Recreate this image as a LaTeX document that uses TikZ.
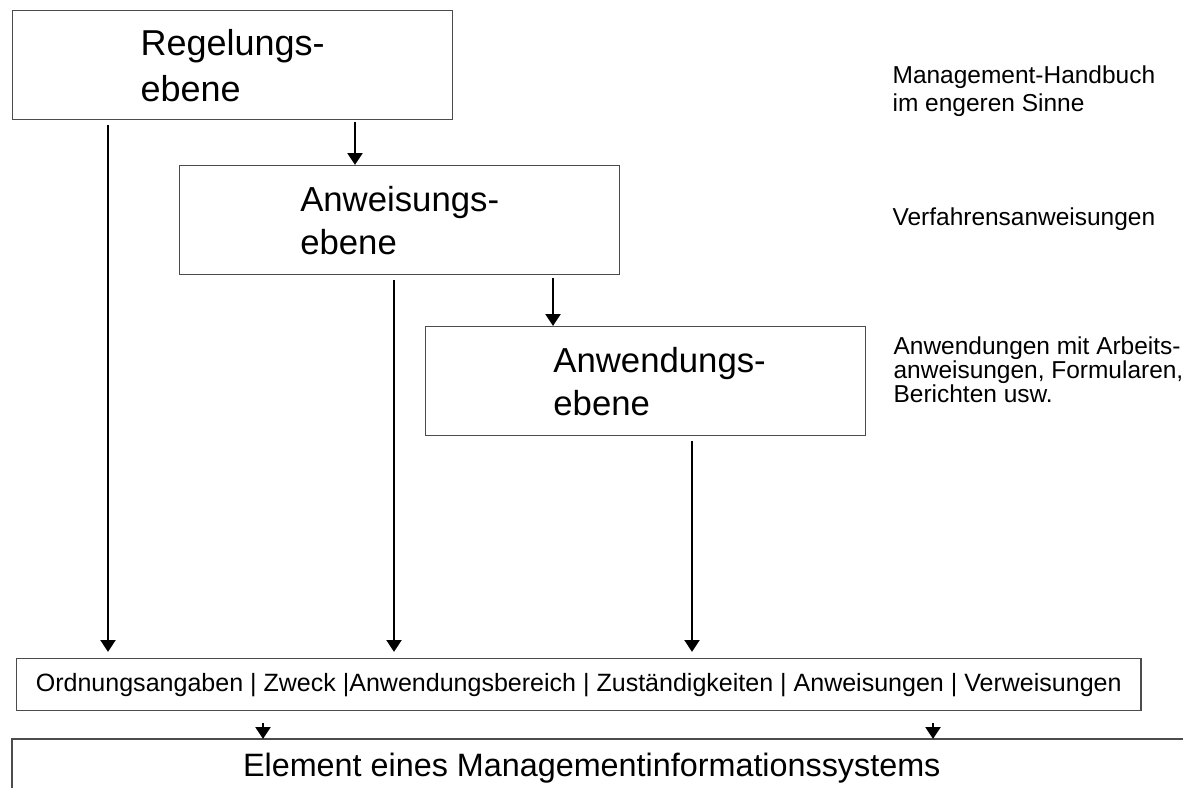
\documentclass[tikz,border=0pt]{standalone}
\usepackage{fontspec}
\setmainfont{Liberation Sans}
\usetikzlibrary{arrows.meta}

\begin{document}
\begin{tikzpicture}[%
        x = 0.025cm,
        y = -0.025cm,
        line width = 0.9pt,
        > = {Triangle[length = 8.5pt, width = 10.5pt]},
        ebene/.style = {
            draw = black!70,
            rectangle,
            anchor = north west,
            minimum width = 11cm,
            minimum height = 2.725cm,
            inner sep = 0pt,
            align = left,
            font = \fontsize{24.7}{30.6}\selectfont,
        },
        notiz/.style = {
            anchor = base west,
            inner sep = 0pt,
            align = left,
            font = \fontsize{17.4}{20}\selectfont,
        },
    ]

        % Size of the picture.
        \useasboundingbox (0, 0) rectangle (1183, 788);
        \clip (0, 0) rectangle (1183, 788);

        % The three levels.
        \node[ebene, font = \fontsize{25.6}{32.7}\selectfont] (regelung) at (12, 10) {Regelungs-\\ebene};
        \node[ebene] (anweisung) at (179, 165) {Anweisungs-\\ebene};
        \node[ebene] (anwendung) at (425, 326) {\hspace*{22\pgflinewidth}Anwendungs-\\\hspace*{22\pgflinewidth}ebene};

        % Notes to the right of the levels (base is the last line).
        \node[notiz] (handbuch) at (892, 112) {Management-Handbuch\\im engeren Sinne};
        \node[notiz] (verfahren) at (892, 226) {Verfahrensanweisungen};
        \node[notiz, font = \fontsize{17.4}{16.9}\selectfont] (anwendungen) at (893, 402)
            {Anwendungen mit Arbeits-\\anweisungen, Formularen,\\Berichten usw.};

        % Row with the contents of a document.
        \node[
            draw = black!70,
            anchor = north west,
            minimum width = 28.1cm,
            minimum height = 1.3cm,
            inner sep = 0pt,
            font = \fontsize{17.8}{20}\selectfont,
        ] (inhalt) at (16, 658)
            {Ordnungsangaben | Zweck |Anwendungsbereich | Zuständigkeiten | Anweisungen | Verweisungen};

        % Element box, open at the bottom and to the right.
        \node[
            anchor = north west,
            minimum width = 28.95cm,
            minimum height = 1.4cm,
            inner sep = 0pt,
            font = \fontsize{23}{26}\selectfont,
        ] (element) at (12, 739) {Element eines Managementinformationssystems};
        \draw[draw = black!70] (element.south west) -- (element.north west) -- ++(1200, 0);

        % Start points of the arrows.
        \coordinate (r1) at (108, 125);
        \coordinate (r2) at (355, 122);
        \coordinate (a1) at (394, 280);
        \coordinate (a2) at (553, 278);
        \coordinate (w1) at (692, 441);
        \coordinate (i1) at (263, 723);
        \coordinate (i2) at (933, 723);

        % Arrows between the levels and down to the contents.
        \begin{scope}[
            ->,
            line width = 2pt,
        ]
            \draw (r2) to (r2 |- anweisung.north);
            \draw (a2) to (a2 |- anwendung.north);
            \begin{scope}[shorten > = 4.3pt]
                \draw (r1) to (r1 |- inhalt.north);
                \draw (a1) to (a1 |- inhalt.north);
                \draw (w1) to (w1 |- inhalt.north);
            \end{scope}
            \draw (i1) to (i1 |- element.north);
            \draw (i2) to (i2 |- element.north);
        \end{scope}
    \end{tikzpicture}
\end{document}
